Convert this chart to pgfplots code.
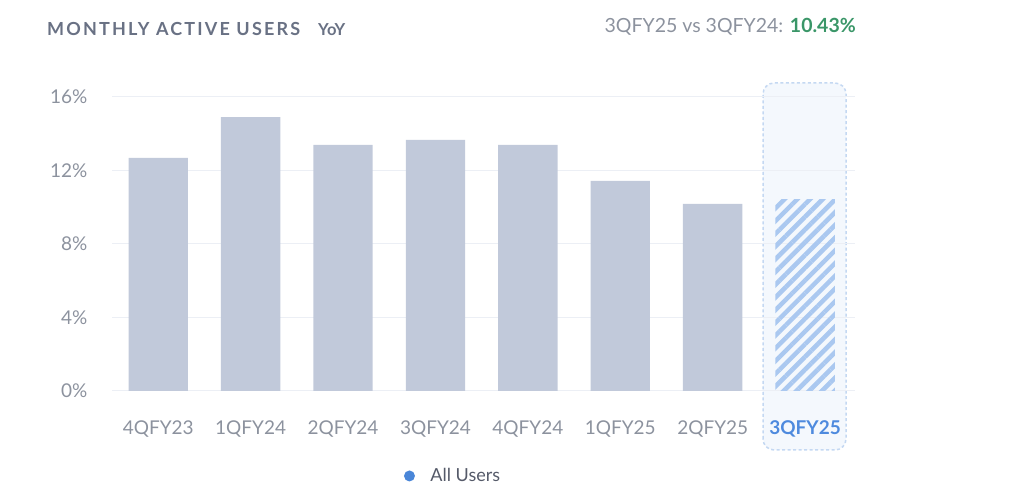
\documentclass[border=0pt]{standalone}
\usepackage{pgfplots}
\pgfplotsset{compat=1.18}
\usetikzlibrary{patterns.meta}
\usepackage{fontspec}
\setmainfont{Lato}
\definecolor{barc}{RGB}{193,201,218}
\definecolor{gridc}{RGB}{236,239,245}
\definecolor{tickc}{RGB}{140,146,158}
\definecolor{titlec}{RGB}{105,113,132}
\definecolor{hl}{RGB}{78,138,222}
\definecolor{hatchc}{RGB}{170,200,240}
\definecolor{boxfill}{RGB}{244,248,253}
\definecolor{boxline}{RGB}{196,216,242}
\definecolor{greenc}{RGB}{58,150,104}
\definecolor{dotc}{RGB}{74,134,216}
\definecolor{legtc}{RGB}{85,90,105}
\begin{document}
\begin{tikzpicture}
\path (0,0) rectangle (1024pt,487pt);
% highlight frame behind the last category
\fill[boxfill, rounded corners=11pt] (763pt,37pt) rectangle (846pt,404pt);
\draw[boxline, line width=1.5pt, dash pattern=on 3pt off 2.5pt, rounded corners=11pt] (763pt,37pt) rectangle (846pt,404pt);
\begin{axis}[
  at={(112pt,96pt)}, anchor=south west,
  scale only axis, width=743pt, height=294pt,
  xmin=-0.5, xmax=7.54, ymin=0, ymax=16,
  clip=false,
  axis line style={draw=none},
  tick style={draw=none},
  ymajorgrids, grid style={draw=gridc, line width=1pt},
  ytick={0,4,8,12,16},
  yticklabels={0\%,4\%,8\%,12\%,16\%},
  xtick={0,1,2,3,4,5,6},
  xticklabels={4QFY23,1QFY24,2QFY24,3QFY24,4QFY24,1QFY25,2QFY25},
  extra x ticks={7},
  extra x tick labels={{\bfseries\textcolor{hl}{3QFY25}}},
  ticklabel style={font=\fontsize{19}{21}\selectfont, text=tickc},
  yticklabel style={xshift=-21pt},
  xticklabel style={yshift=-26pt},
  legend style={at={(0.459,-0.289)}, anchor=center, draw=none, fill=none,
    font=\fontsize{18}{20}\selectfont, text=legtc},
]
\addplot[ybar, bar width=59.4pt, bar shift=0pt, fill=barc, draw=none,
  legend image code/.code={\fill[dotc] (0pt,0pt) circle (5.5pt); \path (19pt,0pt);}]
  coordinates {(0,12.68) (1,14.91) (2,13.39) (3,13.66) (4,13.39) (5,11.43) (6,10.18)};
\addlegendentry{All Users}
\addplot[ybar, bar width=59.4pt, bar shift=0pt, draw=none, forget plot,
  pattern={Lines[angle=45,distance=9pt,line width=4.5pt]}, pattern color=hatchc]
  coordinates {(7,10.43)};
\end{axis}
\node[anchor=base west, text=titlec, inner sep=0pt] at (47pt,451pt)
  {\fontsize{18}{20}\selectfont\bfseries\addfontfeatures{LetterSpace=12}MONTHLY ACTIVE USERS};
\node[anchor=base west, text=titlec, inner sep=0pt] at (318pt,451pt)
  {\fontsize{16.5}{18}\selectfont\bfseries YoY};
\node[anchor=base east, inner sep=0pt] at (856pt,454pt)
  {\fontsize{19.5}{21}\selectfont\textcolor{tickc}{3QFY25 vs 3QFY24:} \textcolor{greenc}{\bfseries 10.43\%}};
\end{tikzpicture}
\end{document}
